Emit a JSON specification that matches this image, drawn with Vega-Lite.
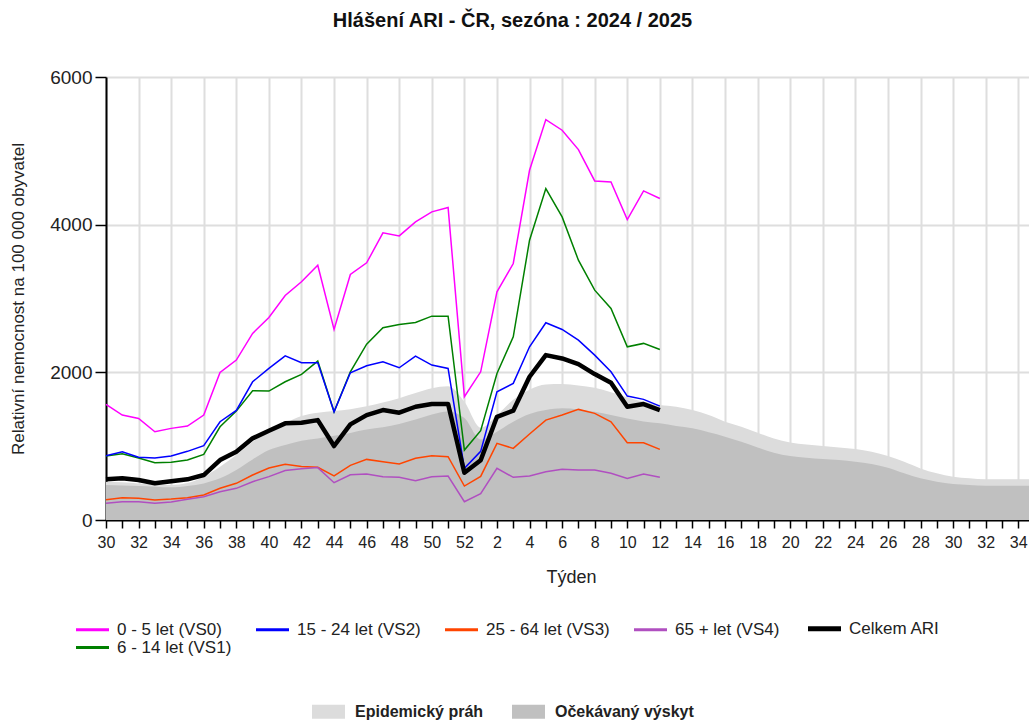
{
"$schema": "https://vega.github.io/schema/vega-lite/v6.json",
"width": 923, "height": 443,
"autosize": {"type": "none"},
"padding": {"left": 106, "top": 77, "right": 0, "bottom": 202},
"background": "white",
"config": {"view": {"stroke": null}, "font": "Liberation Sans"},
"title": {"text": "Hlášení ARI - ČR, sezóna : 2024 / 2025", "font": "Liberation Sans", "fontSize": 20, "fontWeight": "bold", "color": "#111", "anchor": "middle", "frame": "group", "dx": -55, "offset": 37},
"datasets": {
"areas": [
{"i":0,"b":"Epidemický práh","v":519},{"i":1,"b":"Epidemický práh","v":512},{"i":2,"b":"Epidemický práh","v":496},{"i":3,"b":"Epidemický práh","v":482},{"i":4,"b":"Epidemický práh","v":474},{"i":5,"b":"Epidemický práh","v":500},{"i":6,"b":"Epidemický práh","v":586},{"i":7,"b":"Epidemický práh","v":722},{"i":8,"b":"Epidemický práh","v":880},{"i":9,"b":"Epidemický práh","v":1060},{"i":10,"b":"Epidemický práh","v":1195},{"i":11,"b":"Epidemický práh","v":1309},{"i":12,"b":"Epidemický práh","v":1408},{"i":13,"b":"Epidemický práh","v":1453},{"i":14,"b":"Epidemický práh","v":1475},{"i":15,"b":"Epidemický práh","v":1500},{"i":16,"b":"Epidemický práh","v":1540},{"i":17,"b":"Epidemický práh","v":1590},{"i":18,"b":"Epidemický práh","v":1650},{"i":19,"b":"Epidemický práh","v":1720},{"i":20,"b":"Epidemický práh","v":1785},{"i":21,"b":"Epidemický práh","v":1812},{"i":22,"b":"Epidemický práh","v":1600},{"i":23,"b":"Epidemický práh","v":1250},{"i":24,"b":"Epidemický práh","v":1420},{"i":25,"b":"Epidemický práh","v":1630},{"i":26,"b":"Epidemický práh","v":1765},{"i":27,"b":"Epidemický práh","v":1835},{"i":28,"b":"Epidemický práh","v":1841},{"i":29,"b":"Epidemický práh","v":1820},{"i":30,"b":"Epidemický práh","v":1790},{"i":31,"b":"Epidemický práh","v":1730},{"i":32,"b":"Epidemický práh","v":1660},{"i":33,"b":"Epidemický práh","v":1605},{"i":34,"b":"Epidemický práh","v":1557},{"i":35,"b":"Epidemický práh","v":1534},{"i":36,"b":"Epidemický práh","v":1489},{"i":37,"b":"Epidemický práh","v":1421},{"i":38,"b":"Epidemický práh","v":1331},{"i":39,"b":"Epidemický práh","v":1263},{"i":40,"b":"Epidemický práh","v":1182},{"i":41,"b":"Epidemický práh","v":1105},{"i":42,"b":"Epidemický práh","v":1051},{"i":43,"b":"Epidemický práh","v":1024},{"i":44,"b":"Epidemický práh","v":1002},{"i":45,"b":"Epidemický práh","v":983},{"i":46,"b":"Epidemický práh","v":961},{"i":47,"b":"Epidemický práh","v":925},{"i":48,"b":"Epidemický práh","v":866},{"i":49,"b":"Epidemický práh","v":789},{"i":50,"b":"Epidemický práh","v":699},{"i":51,"b":"Epidemický práh","v":632},{"i":52,"b":"Epidemický práh","v":586},{"i":53,"b":"Epidemický práh","v":564},{"i":54,"b":"Epidemický práh","v":551},{"i":55,"b":"Epidemický práh","v":551},{"i":56,"b":"Epidemický práh","v":551},{"i":57,"b":"Epidemický práh","v":551},
{"i":0,"b":"Očekávaný výskyt","v":474},{"i":1,"b":"Očekávaný výskyt","v":468},{"i":2,"b":"Očekávaný výskyt","v":460},{"i":3,"b":"Očekávaný výskyt","v":450},{"i":4,"b":"Očekávaný výskyt","v":442},{"i":5,"b":"Očekávaný výskyt","v":460},{"i":6,"b":"Očekávaný výskyt","v":496},{"i":7,"b":"Očekávaný výskyt","v":564},{"i":8,"b":"Očekávaný výskyt","v":677},{"i":9,"b":"Očekávaný výskyt","v":821},{"i":10,"b":"Očekávaný výskyt","v":947},{"i":11,"b":"Očekávaný výskyt","v":1015},{"i":12,"b":"Očekávaný výskyt","v":1073},{"i":13,"b":"Očekávaný výskyt","v":1105},{"i":14,"b":"Očekávaný výskyt","v":1140},{"i":15,"b":"Očekávaný výskyt","v":1180},{"i":16,"b":"Očekávaný výskyt","v":1225},{"i":17,"b":"Očekávaný výskyt","v":1255},{"i":18,"b":"Očekávaný výskyt","v":1300},{"i":19,"b":"Očekávaný výskyt","v":1360},{"i":20,"b":"Očekávaný výskyt","v":1430},{"i":21,"b":"Očekávaný výskyt","v":1470},{"i":22,"b":"Očekávaný výskyt","v":1380},{"i":23,"b":"Očekávaný výskyt","v":1090},{"i":24,"b":"Očekávaný výskyt","v":1195},{"i":25,"b":"Očekávaný výskyt","v":1331},{"i":26,"b":"Očekávaný výskyt","v":1435},{"i":27,"b":"Očekávaný výskyt","v":1489},{"i":28,"b":"Očekávaný výskyt","v":1512},{"i":29,"b":"Očekávaný výskyt","v":1498},{"i":30,"b":"Očekávaný výskyt","v":1466},{"i":31,"b":"Očekávaný výskyt","v":1421},{"i":32,"b":"Očekávaný výskyt","v":1376},{"i":33,"b":"Očekávaný výskyt","v":1335},{"i":34,"b":"Očekávaný výskyt","v":1309},{"i":35,"b":"Očekávaný výskyt","v":1272},{"i":36,"b":"Očekávaný výskyt","v":1241},{"i":37,"b":"Očekávaný výskyt","v":1187},{"i":38,"b":"Očekávaný výskyt","v":1128},{"i":39,"b":"Očekávaný výskyt","v":1060},{"i":40,"b":"Očekávaný výskyt","v":983},{"i":41,"b":"Očekávaný výskyt","v":911},{"i":42,"b":"Očekávaný výskyt","v":866},{"i":43,"b":"Očekávaný výskyt","v":843},{"i":44,"b":"Očekávaný výskyt","v":826},{"i":45,"b":"Očekávaný výskyt","v":812},{"i":46,"b":"Očekávaný výskyt","v":789},{"i":47,"b":"Očekávaný výskyt","v":758},{"i":48,"b":"Očekávaný výskyt","v":708},{"i":49,"b":"Očekávaný výskyt","v":632},{"i":50,"b":"Očekávaný výskyt","v":564},{"i":51,"b":"Očekávaný výskyt","v":519},{"i":52,"b":"Očekávaný výskyt","v":487},{"i":53,"b":"Očekávaný výskyt","v":474},{"i":54,"b":"Očekávaný výskyt","v":464},{"i":55,"b":"Očekávaný výskyt","v":464},{"i":56,"b":"Očekávaný výskyt","v":464},{"i":57,"b":"Očekávaný výskyt","v":464}
],
"lines": [
{"i":0,"s":"0 - 5 let (VS0)","v":1566},{"i":1,"s":"0 - 5 let (VS0)","v":1421},{"i":2,"s":"0 - 5 let (VS0)","v":1376},{"i":3,"s":"0 - 5 let (VS0)","v":1195},{"i":4,"s":"0 - 5 let (VS0)","v":1241},{"i":5,"s":"0 - 5 let (VS0)","v":1272},{"i":6,"s":"0 - 5 let (VS0)","v":1421},{"i":7,"s":"0 - 5 let (VS0)","v":1999},{"i":8,"s":"0 - 5 let (VS0)","v":2166},{"i":9,"s":"0 - 5 let (VS0)","v":2527},{"i":10,"s":"0 - 5 let (VS0)","v":2743},{"i":11,"s":"0 - 5 let (VS0)","v":3040},{"i":12,"s":"0 - 5 let (VS0)","v":3226},{"i":13,"s":"0 - 5 let (VS0)","v":3451},{"i":14,"s":"0 - 5 let (VS0)","v":2581},{"i":15,"s":"0 - 5 let (VS0)","v":3325},{"i":16,"s":"0 - 5 let (VS0)","v":3483},{"i":17,"s":"0 - 5 let (VS0)","v":3889},{"i":18,"s":"0 - 5 let (VS0)","v":3848},{"i":19,"s":"0 - 5 let (VS0)","v":4038},{"i":20,"s":"0 - 5 let (VS0)","v":4173},{"i":21,"s":"0 - 5 let (VS0)","v":4232},{"i":22,"s":"0 - 5 let (VS0)","v":1669},{"i":23,"s":"0 - 5 let (VS0)","v":2007},{"i":24,"s":"0 - 5 let (VS0)","v":3090},{"i":25,"s":"0 - 5 let (VS0)","v":3474},{"i":26,"s":"0 - 5 let (VS0)","v":4737},{"i":27,"s":"0 - 5 let (VS0)","v":5423},{"i":28,"s":"0 - 5 let (VS0)","v":5279},{"i":29,"s":"0 - 5 let (VS0)","v":5017},{"i":30,"s":"0 - 5 let (VS0)","v":4592},{"i":31,"s":"0 - 5 let (VS0)","v":4579},{"i":32,"s":"0 - 5 let (VS0)","v":4070},{"i":33,"s":"0 - 5 let (VS0)","v":4457},{"i":34,"s":"0 - 5 let (VS0)","v":4354},
{"i":0,"s":"6 - 14 let (VS1)","v":866},{"i":1,"s":"6 - 14 let (VS1)","v":898},{"i":2,"s":"6 - 14 let (VS1)","v":840},{"i":3,"s":"6 - 14 let (VS1)","v":776},{"i":4,"s":"6 - 14 let (VS1)","v":781},{"i":5,"s":"6 - 14 let (VS1)","v":812},{"i":6,"s":"6 - 14 let (VS1)","v":889},{"i":7,"s":"6 - 14 let (VS1)","v":1263},{"i":8,"s":"6 - 14 let (VS1)","v":1475},{"i":9,"s":"6 - 14 let (VS1)","v":1750},{"i":10,"s":"6 - 14 let (VS1)","v":1746},{"i":11,"s":"6 - 14 let (VS1)","v":1872},{"i":12,"s":"6 - 14 let (VS1)","v":1972},{"i":13,"s":"6 - 14 let (VS1)","v":2152},{"i":14,"s":"6 - 14 let (VS1)","v":1466},{"i":15,"s":"6 - 14 let (VS1)","v":2007},{"i":16,"s":"6 - 14 let (VS1)","v":2382},{"i":17,"s":"6 - 14 let (VS1)","v":2603},{"i":18,"s":"6 - 14 let (VS1)","v":2649},{"i":19,"s":"6 - 14 let (VS1)","v":2676},{"i":20,"s":"6 - 14 let (VS1)","v":2761},{"i":21,"s":"6 - 14 let (VS1)","v":2761},{"i":22,"s":"6 - 14 let (VS1)","v":947},{"i":23,"s":"6 - 14 let (VS1)","v":1210},{"i":24,"s":"6 - 14 let (VS1)","v":1985},{"i":25,"s":"6 - 14 let (VS1)","v":2481},{"i":26,"s":"6 - 14 let (VS1)","v":3790},{"i":27,"s":"6 - 14 let (VS1)","v":4489},{"i":28,"s":"6 - 14 let (VS1)","v":4105},{"i":29,"s":"6 - 14 let (VS1)","v":3519},{"i":30,"s":"6 - 14 let (VS1)","v":3113},{"i":31,"s":"6 - 14 let (VS1)","v":2865},{"i":32,"s":"6 - 14 let (VS1)","v":2346},{"i":33,"s":"6 - 14 let (VS1)","v":2392},{"i":34,"s":"6 - 14 let (VS1)","v":2310},
{"i":0,"s":"15 - 24 let (VS2)","v":870},{"i":1,"s":"15 - 24 let (VS2)","v":925},{"i":2,"s":"15 - 24 let (VS2)","v":850},{"i":3,"s":"15 - 24 let (VS2)","v":840},{"i":4,"s":"15 - 24 let (VS2)","v":866},{"i":5,"s":"15 - 24 let (VS2)","v":930},{"i":6,"s":"15 - 24 let (VS2)","v":1006},{"i":7,"s":"15 - 24 let (VS2)","v":1331},{"i":8,"s":"15 - 24 let (VS2)","v":1485},{"i":9,"s":"15 - 24 let (VS2)","v":1872},{"i":10,"s":"15 - 24 let (VS2)","v":2053},{"i":11,"s":"15 - 24 let (VS2)","v":2224},{"i":12,"s":"15 - 24 let (VS2)","v":2129},{"i":13,"s":"15 - 24 let (VS2)","v":2129},{"i":14,"s":"15 - 24 let (VS2)","v":1466},{"i":15,"s":"15 - 24 let (VS2)","v":1994},{"i":16,"s":"15 - 24 let (VS2)","v":2089},{"i":17,"s":"15 - 24 let (VS2)","v":2143},{"i":18,"s":"15 - 24 let (VS2)","v":2062},{"i":19,"s":"15 - 24 let (VS2)","v":2220},{"i":20,"s":"15 - 24 let (VS2)","v":2098},{"i":21,"s":"15 - 24 let (VS2)","v":2053},{"i":22,"s":"15 - 24 let (VS2)","v":700},{"i":23,"s":"15 - 24 let (VS2)","v":930},{"i":24,"s":"15 - 24 let (VS2)","v":1737},{"i":25,"s":"15 - 24 let (VS2)","v":1850},{"i":26,"s":"15 - 24 let (VS2)","v":2346},{"i":27,"s":"15 - 24 let (VS2)","v":2671},{"i":28,"s":"15 - 24 let (VS2)","v":2581},{"i":29,"s":"15 - 24 let (VS2)","v":2436},{"i":30,"s":"15 - 24 let (VS2)","v":2233},{"i":31,"s":"15 - 24 let (VS2)","v":2007},{"i":32,"s":"15 - 24 let (VS2)","v":1678},{"i":33,"s":"15 - 24 let (VS2)","v":1634},{"i":34,"s":"15 - 24 let (VS2)","v":1543},
{"i":0,"s":"25 - 64 let (VS3)","v":275},{"i":1,"s":"25 - 64 let (VS3)","v":302},{"i":2,"s":"25 - 64 let (VS3)","v":294},{"i":3,"s":"25 - 64 let (VS3)","v":271},{"i":4,"s":"25 - 64 let (VS3)","v":284},{"i":5,"s":"25 - 64 let (VS3)","v":302},{"i":6,"s":"25 - 64 let (VS3)","v":338},{"i":7,"s":"25 - 64 let (VS3)","v":429},{"i":8,"s":"25 - 64 let (VS3)","v":497},{"i":9,"s":"25 - 64 let (VS3)","v":609},{"i":10,"s":"25 - 64 let (VS3)","v":705},{"i":11,"s":"25 - 64 let (VS3)","v":754},{"i":12,"s":"25 - 64 let (VS3)","v":725},{"i":13,"s":"25 - 64 let (VS3)","v":713},{"i":14,"s":"25 - 64 let (VS3)","v":596},{"i":15,"s":"25 - 64 let (VS3)","v":740},{"i":16,"s":"25 - 64 let (VS3)","v":821},{"i":17,"s":"25 - 64 let (VS3)","v":789},{"i":18,"s":"25 - 64 let (VS3)","v":758},{"i":19,"s":"25 - 64 let (VS3)","v":835},{"i":20,"s":"25 - 64 let (VS3)","v":870},{"i":21,"s":"25 - 64 let (VS3)","v":857},{"i":22,"s":"25 - 64 let (VS3)","v":460},{"i":23,"s":"25 - 64 let (VS3)","v":590},{"i":24,"s":"25 - 64 let (VS3)","v":1038},{"i":25,"s":"25 - 64 let (VS3)","v":970},{"i":26,"s":"25 - 64 let (VS3)","v":1164},{"i":27,"s":"25 - 64 let (VS3)","v":1353},{"i":28,"s":"25 - 64 let (VS3)","v":1421},{"i":29,"s":"25 - 64 let (VS3)","v":1498},{"i":30,"s":"25 - 64 let (VS3)","v":1444},{"i":31,"s":"25 - 64 let (VS3)","v":1331},{"i":32,"s":"25 - 64 let (VS3)","v":1046},{"i":33,"s":"25 - 64 let (VS3)","v":1046},{"i":34,"s":"25 - 64 let (VS3)","v":957},
{"i":0,"s":"65 + let (VS4)","v":226},{"i":1,"s":"65 + let (VS4)","v":248},{"i":2,"s":"65 + let (VS4)","v":248},{"i":3,"s":"65 + let (VS4)","v":226},{"i":4,"s":"65 + let (VS4)","v":244},{"i":5,"s":"65 + let (VS4)","v":280},{"i":6,"s":"65 + let (VS4)","v":316},{"i":7,"s":"65 + let (VS4)","v":383},{"i":8,"s":"65 + let (VS4)","v":429},{"i":9,"s":"65 + let (VS4)","v":519},{"i":10,"s":"65 + let (VS4)","v":587},{"i":11,"s":"65 + let (VS4)","v":670},{"i":12,"s":"65 + let (VS4)","v":695},{"i":13,"s":"65 + let (VS4)","v":710},{"i":14,"s":"65 + let (VS4)","v":505},{"i":15,"s":"65 + let (VS4)","v":612},{"i":16,"s":"65 + let (VS4)","v":623},{"i":17,"s":"65 + let (VS4)","v":586},{"i":18,"s":"65 + let (VS4)","v":578},{"i":19,"s":"65 + let (VS4)","v":532},{"i":20,"s":"65 + let (VS4)","v":586},{"i":21,"s":"65 + let (VS4)","v":596},{"i":22,"s":"65 + let (VS4)","v":248},{"i":23,"s":"65 + let (VS4)","v":356},{"i":24,"s":"65 + let (VS4)","v":700},{"i":25,"s":"65 + let (VS4)","v":578},{"i":26,"s":"65 + let (VS4)","v":596},{"i":27,"s":"65 + let (VS4)","v":654},{"i":28,"s":"65 + let (VS4)","v":686},{"i":29,"s":"65 + let (VS4)","v":677},{"i":30,"s":"65 + let (VS4)","v":677},{"i":31,"s":"65 + let (VS4)","v":632},{"i":32,"s":"65 + let (VS4)","v":564},{"i":33,"s":"65 + let (VS4)","v":623},{"i":34,"s":"65 + let (VS4)","v":578},
{"i":0,"s":"Celkem ARI","v":551},{"i":1,"s":"Celkem ARI","v":564},{"i":2,"s":"Celkem ARI","v":541},{"i":3,"s":"Celkem ARI","v":497},{"i":4,"s":"Celkem ARI","v":524},{"i":5,"s":"Celkem ARI","v":551},{"i":6,"s":"Celkem ARI","v":609},{"i":7,"s":"Celkem ARI","v":812},{"i":8,"s":"Celkem ARI","v":925},{"i":9,"s":"Celkem ARI","v":1106},{"i":10,"s":"Celkem ARI","v":1209},{"i":11,"s":"Celkem ARI","v":1309},{"i":12,"s":"Celkem ARI","v":1317},{"i":13,"s":"Celkem ARI","v":1353},{"i":14,"s":"Celkem ARI","v":1002},{"i":15,"s":"Celkem ARI","v":1295},{"i":16,"s":"Celkem ARI","v":1421},{"i":17,"s":"Celkem ARI","v":1489},{"i":18,"s":"Celkem ARI","v":1453},{"i":19,"s":"Celkem ARI","v":1534},{"i":20,"s":"Celkem ARI","v":1570},{"i":21,"s":"Celkem ARI","v":1570},{"i":22,"s":"Celkem ARI","v":640},{"i":23,"s":"Celkem ARI","v":810},{"i":24,"s":"Celkem ARI","v":1398},{"i":25,"s":"Celkem ARI","v":1480},{"i":26,"s":"Celkem ARI","v":1940},{"i":27,"s":"Celkem ARI","v":2233},{"i":28,"s":"Celkem ARI","v":2188},{"i":29,"s":"Celkem ARI","v":2111},{"i":30,"s":"Celkem ARI","v":1976},{"i":31,"s":"Celkem ARI","v":1858},{"i":32,"s":"Celkem ARI","v":1534},{"i":33,"s":"Celkem ARI","v":1570},{"i":34,"s":"Celkem ARI","v":1489}
]
},
"encoding": {
"x": {"field": "i", "type": "quantitative", "scale": {"domain": [0, 56.66], "nice": false, "zero": false},
 "axis": {"title": "Týden", "values": [0,1,2,3,4,5,6,7,8,9,10,11,12,13,14,15,16,17,18,19,20,21,22,23,24,25,26,27,28,29,30,31,32,33,34,35,36,37,38,39,40,41,42,43,44,45,46,47,48,49,50,51,52,53,54,55,56],
  "labelExpr": "datum.value % 2 == 0 ? (datum.value <= 22 ? datum.value + 30 : datum.value - 22) : ''",
  "labelFlush": false, "labelOverlap": false, "labelFont": "Liberation Sans", "labelFontSize": 16, "labelColor": "#222", "labelPadding": 6,
  "tickSize": 8, "tickColor": "#000", "tickWidth": 1.5, "domainColor": "#000", "domainWidth": 2,
  "grid": true, "gridColor": "#dedede", "gridWidth": 2, "gridOpacity": {"condition": {"test": "datum.value % 2 == 0", "value": 1}, "value": 0},
  "titleFont": "Liberation Sans", "titleFontSize": 18, "titleFontWeight": "normal", "titleColor": "#222", "titleX": 465, "titleY": 57, "titleBaseline": "middle", "titleAlign": "center"}},
"y": {"field": "v", "type": "quantitative", "scale": {"domain": [0, 6000], "nice": false},
 "axis": {"title": "Relativní nemocnost na 100 000 obyvatel", "values": [0, 2000, 4000, 6000], "format": "d",
  "labelFont": "Liberation Sans", "labelFontSize": 19, "labelColor": "#222", "labelPadding": 3,
  "tickSize": 11, "tickColor": "#000", "tickWidth": 1.5, "domainColor": "#000", "domainWidth": 2,
  "grid": true, "gridColor": "#dedede", "gridWidth": 2,
  "titleFont": "Liberation Sans", "titleFontSize": 17, "titleFontWeight": "normal", "titleColor": "#222", "titleX": -88, "titleY": 221.5, "titleAngle": 270, "titleAlign": "center", "titleBaseline": "middle"}}
},
"layer": [
{"data": {"name": "areas"}, "transform": [{"filter": "datum.b == 'Epidemický práh'"}],
 "mark": {"type": "area", "interpolate": "monotone", "clip": true},
 "encoding": {"fill": {"field": "b", "type": "nominal",
  "scale": {"domain": ["Epidemický práh", "Očekávaný výskyt"], "range": ["#dcdcdc", "#c0c0c0"]},
  "legend": {"orient": "none", "legendX": 206, "legendY": 618, "direction": "horizontal", "title": null, "padding": 0,
   "symbolType": "M-1,-0.42H1V0.42H-1Z", "symbolSize": 1089, "symbolStrokeWidth": 0, "symbolOpacity": 1,
   "labelFont": "Liberation Sans", "labelFontSize": 16, "labelFontWeight": "bold", "labelColor": "#222", "labelOffset": 10, "columnPadding": 28}}}},
{"data": {"name": "areas"}, "transform": [{"filter": "datum.b == 'Očekávaný výskyt'"}],
 "mark": {"type": "area", "interpolate": "monotone", "clip": true},
 "encoding": {"fill": {"field": "b", "type": "nominal"}}},
{"data": {"name": "lines"}, "transform": [{"filter": "datum.s != 'Celkem ARI'"}],
 "mark": {"type": "line", "strokeWidth": 1.5},
 "encoding": {"stroke": {"field": "s", "type": "nominal",
  "scale": {"domain": ["0 - 5 let (VS0)", "15 - 24 let (VS2)", "25 - 64 let (VS3)", "65 + let (VS4)", "Celkem ARI", "6 - 14 let (VS1)"],
            "range": ["#ff00ff", "#0000ff", "#ff4500", "#b04fc0", "#000000", "#008000"]},
  "legend": {"orient": "none", "legendX": -22, "legendY": 543, "direction": "horizontal", "columns": 5, "title": null, "padding": 0,
   "symbolType": "stroke", "symbolSize": 1089, "symbolStrokeWidth": 3,
   "labelFont": "Liberation Sans", "labelFontSize": 17, "labelColor": "#222", "labelOffset": 16, "columnPadding": 18, "rowPadding": -12,
   "encode": {"symbols": {"update": {"strokeWidth": {"signal": "datum.value === 'Celkem ARI' ? 5 : 3"}}}}}}}},
{"data": {"name": "lines"}, "transform": [{"filter": "datum.s == 'Celkem ARI'"}],
 "mark": {"type": "line", "strokeWidth": 4.5, "strokeJoin": "round"},
 "encoding": {"stroke": {"field": "s", "type": "nominal"}}}
]
}
